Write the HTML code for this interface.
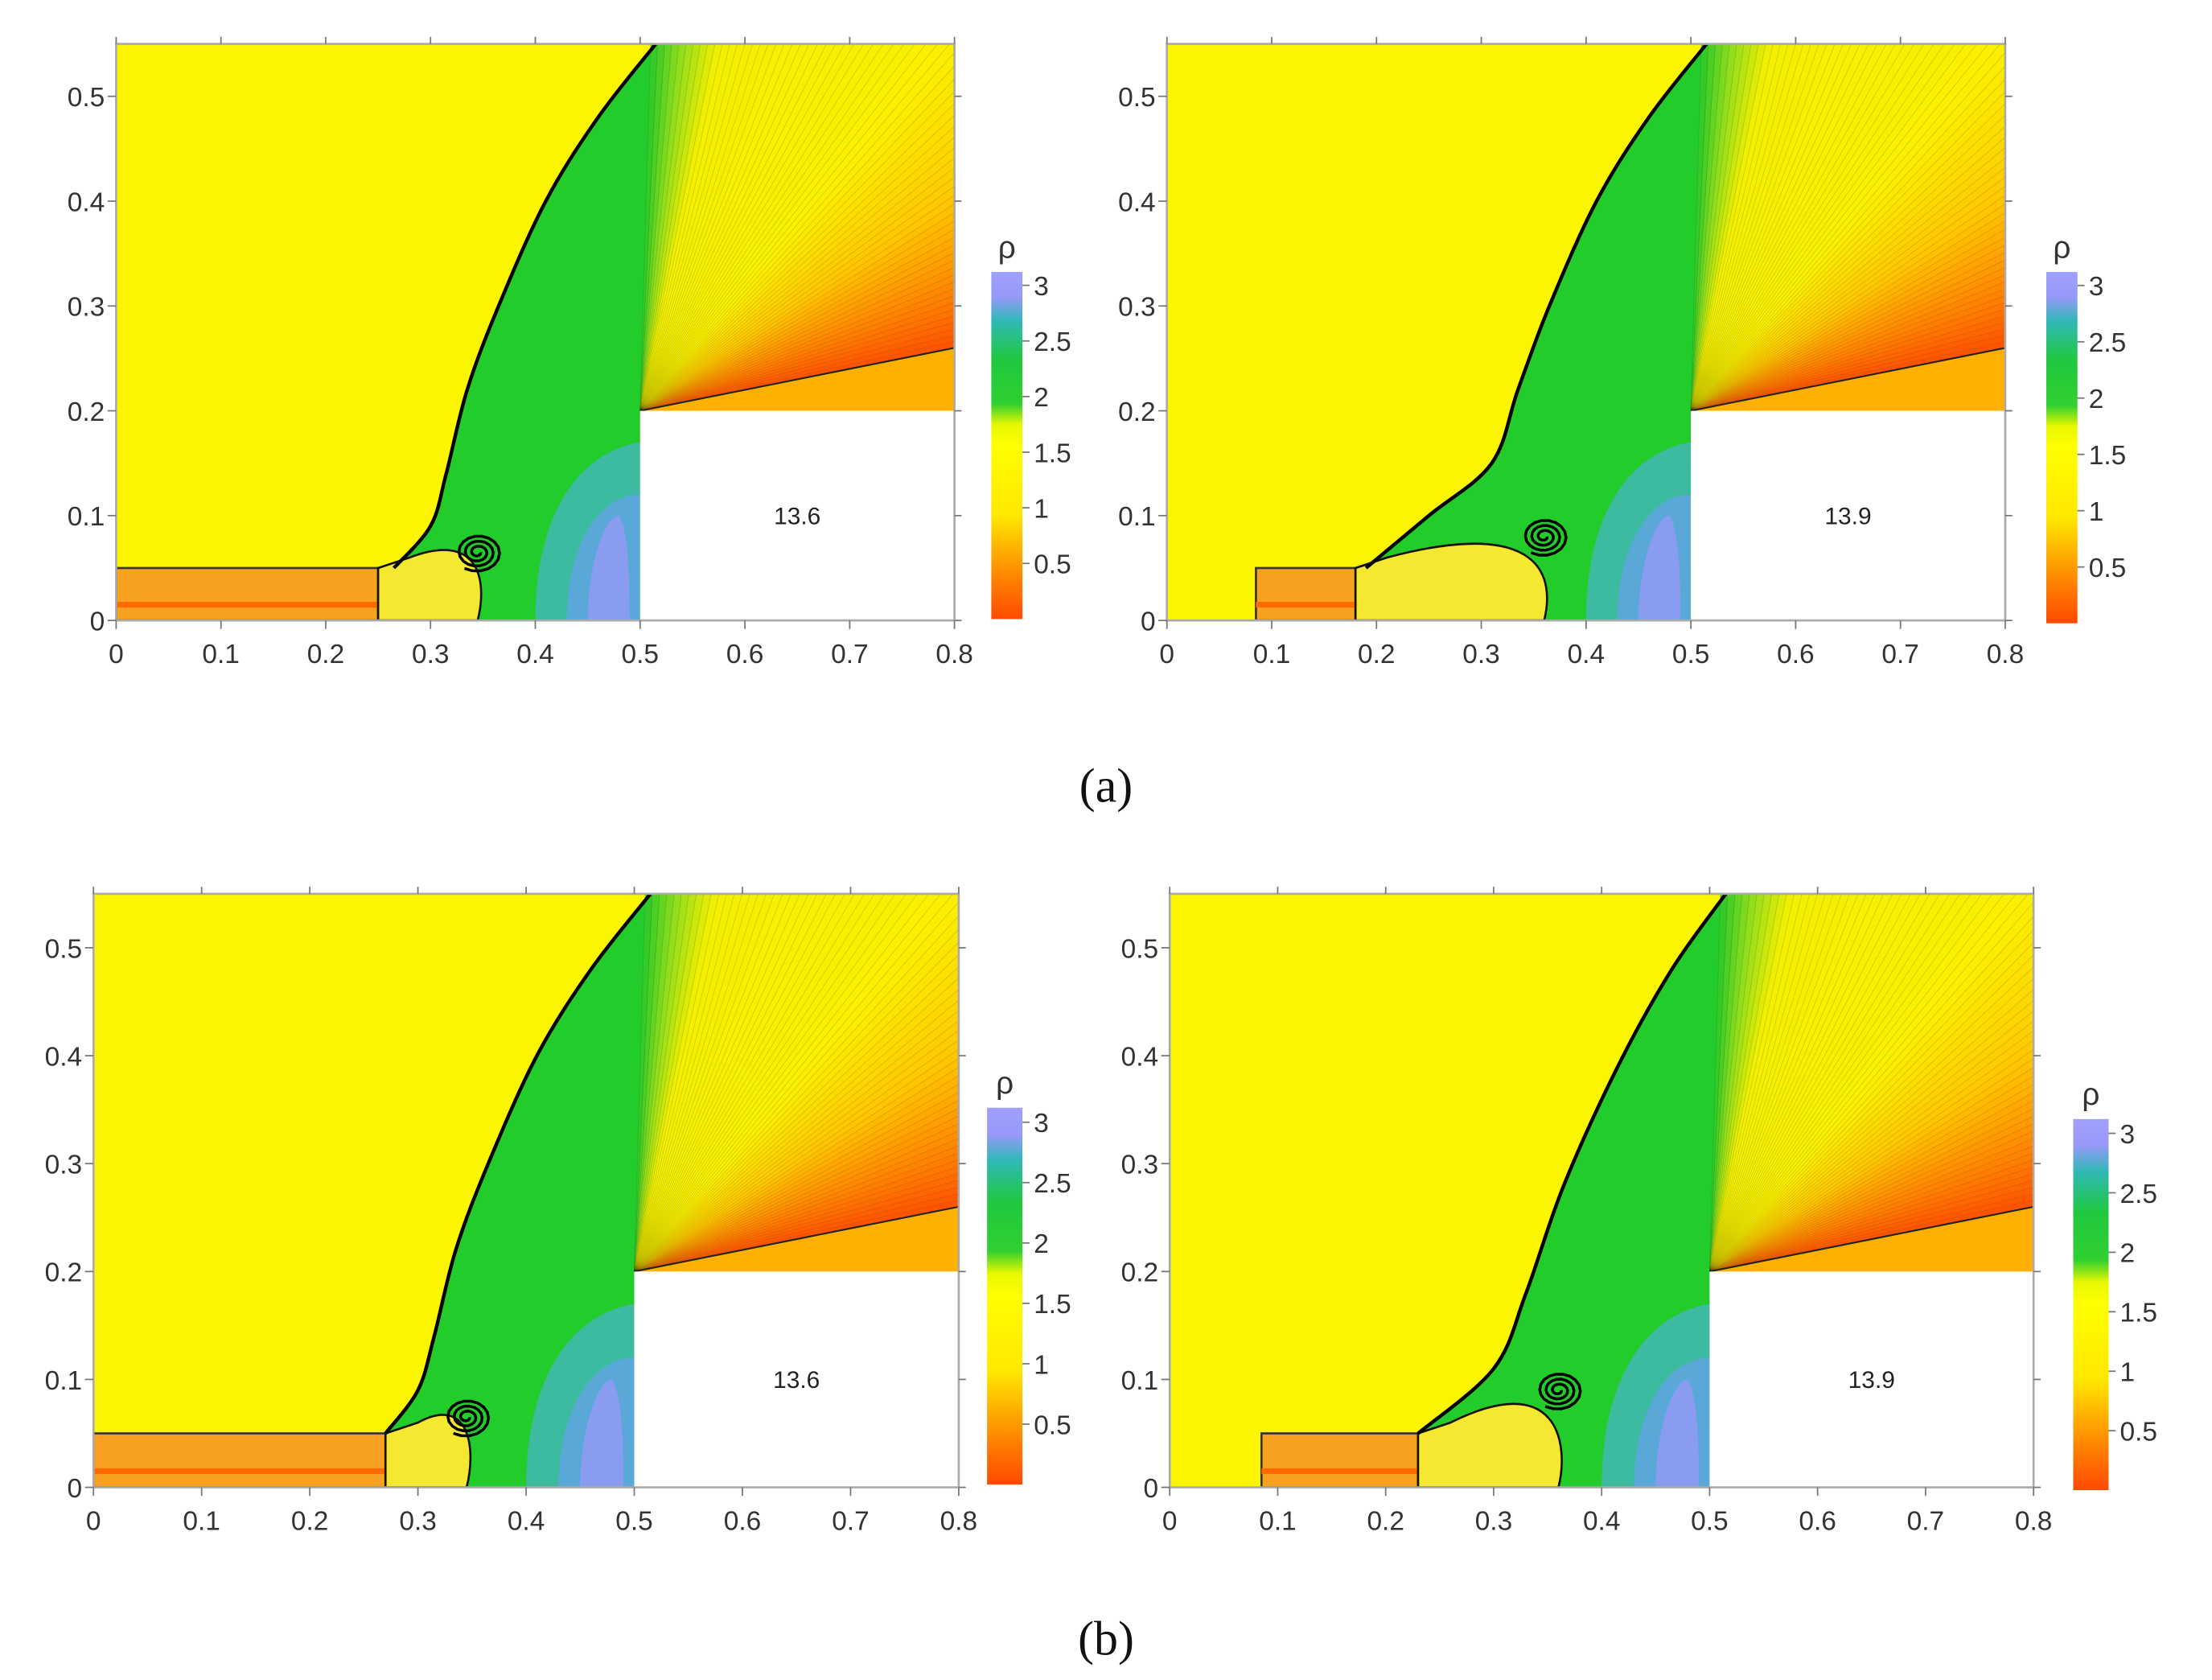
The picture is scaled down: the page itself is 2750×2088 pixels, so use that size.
<!DOCTYPE html>
<html><head><meta charset="utf-8"><style>
html,body{margin:0;padding:0;background:#fff;}
svg{display:block;font-family:"Liberation Sans",sans-serif;}
</style></head><body>
<svg id="fig" width="2750" height="2088" viewBox="0 0 1562 1186" xmlns="http://www.w3.org/2000/svg">
<text x="781" y="566" font-family="Liberation Serif,serif" font-size="34" text-anchor="middle" fill="#111">(a)</text>
<text x="781" y="1168" font-family="Liberation Serif,serif" font-size="34" text-anchor="middle" fill="#111">(b)</text>
</svg>
<script>
const xTicks=[0,0.1,0.2,0.3,0.4,0.5,0.6,0.7,0.8];
const yTicks=[0,0.1,0.2,0.3,0.4,0.5];
const cbTicks=[0.5,1,1.5,2,2.5,3];
const timeLabels=["13.6","13.9","13.6","13.9"];
const shockA1=[[0.265,0.05],[0.3,0.09],[0.315,0.14],[0.335,0.22],[0.365,0.3],[0.41,0.4],[0.46,0.48],[0.515,0.55]];
const shockA2=[[0.19,0.05],[0.25,0.1],[0.31,0.15],[0.335,0.22],[0.365,0.3],[0.41,0.4],[0.46,0.48],[0.515,0.55]];
const shockB1=[[0.27,0.05],[0.3,0.09],[0.315,0.14],[0.335,0.22],[0.365,0.3],[0.41,0.4],[0.46,0.48],[0.515,0.55]];
const shockB2=[[0.23,0.05],[0.3,0.11],[0.33,0.18],[0.365,0.28],[0.415,0.39],[0.465,0.48],[0.515,0.55]];
const jetStart=[0,0.085,0,0.085];
const jetEnd=[0.25,0.18,0.27,0.23];
const vortexX=[0.345,0.36,0.345,0.36];
const vortexY=[0.065,0.08,0.065,0.09];
const panels=[
 {x0:82,x1:674,y0:31,y1:438,cb:[700,722,192,437],shock:shockA1},
 {x0:824,x1:1416,y0:31,y1:438,cb:[1445,1467,192,440],shock:shockA2},
 {x0:66,x1:677,y0:631,y1:1050,cb:[697,722,782,1048],shock:shockB1},
 {x0:826,x1:1436,y0:631,y1:1050,cb:[1464,1489,790,1052],shock:shockB2}
];
const NS="http://www.w3.org/2000/svg";
const svg=document.getElementById('fig');
function mk(t,a,p){const e=document.createElementNS(NS,t);for(const k in a)e.setAttribute(k,a[k]);(p||svg).appendChild(e);return e;}
function lerpC(a,b,t){return a.map((v,i)=>Math.round(v+(b[i]-v)*t));}
function fanColor(t){const st=[[0,[40,200,40]],[0.06,[140,220,30]],[0.14,[245,240,0]],[0.5,[250,240,0]],[0.7,[255,200,0]],[0.88,[255,130,0]],[1,[255,80,0]]];
 for(let i=0;i<st.length-1;i++){if(t<=st[i+1][0]){const c=lerpC(st[i][1],st[i+1][1],(t-st[i][0])/(st[i+1][0]-st[i][0]));return `rgb(${c})`;}}return 'rgb(255,80,0)';}
function smooth(p){let d=`M${p[0][0]},${p[0][1]}`;for(let i=0;i<p.length-1;i++){const p0=p[Math.max(0,i-1)],p1=p[i],p2=p[i+1],p3=p[Math.min(p.length-1,i+2)];
 d+=` C${p1[0]+(p2[0]-p0[0])/6},${p1[1]+(p2[1]-p0[1])/6} ${p2[0]-(p3[0]-p1[0])/6},${p2[1]-(p3[1]-p1[1])/6} ${p2[0]},${p2[1]}`;}return d;}
panels.forEach((P,pi)=>{
 const sx=v=>P.x0+v/0.8*(P.x1-P.x0), sy=v=>P.y1-v/0.55*(P.y1-P.y0);
 const g=mk('g',{});
 
 
 const cid='clip'+pi;
 const cp=mk('clipPath',{id:cid},g);mk('rect',{x:P.x0,y:P.y0,width:P.x1-P.x0,height:P.y1-P.y0},cp);
 const pg=mk('g',{'clip-path':`url(#${cid})`},g);
 const bg=mk('rect',{x:P.x0,y:P.y0,width:P.x1-P.x0,height:P.y1-P.y0,fill:'#fbf600'},pg);
 
 
 const spx=P.shock.map(p=>[sx(p[0]),sy(p[1])]);
 const sd=smooth(spx);
 const gr=mk('path',{d:sd+` L${sx(0.53)},${sy(0.55)} L${sx(0.5)},${sy(0.2)} L${sx(0.5)},${sy(0)} L${sx(P.shock[0][0])},${sy(0)} Z`,fill:'#22cc2a'},pg);
 
 
 const bl=mk('path',{d:`M${sx(0.4)},${sy(0)} C${sx(0.4)},${sy(0.1)} ${sx(0.44)},${sy(0.16)} ${sx(0.5)},${sy(0.17)} L${sx(0.5)},${sy(0)} Z`,fill:'#3cbba0'},pg);
 
 
 mk('path',{d:`M${sx(0.43)},${sy(0)} C${sx(0.43)},${sy(0.07)} ${sx(0.46)},${sy(0.12)} ${sx(0.5)},${sy(0.12)} L${sx(0.5)},${sy(0)} Z`,fill:'#5aa8d8'},pg);
 mk('path',{d:`M${sx(0.45)},${sy(0)} C${sx(0.45)},${sy(0.05)} ${sx(0.465)},${sy(0.1)} ${sx(0.48)},${sy(0.1)} C${sx(0.49)},${sy(0.08)} ${sx(0.49)},${sy(0.03)} ${sx(0.49)},${sy(0)} Z`,fill:'#8a9cf0'},pg);
 const cx=sx(0.5),cy=sy(0.2);
 const aA=Math.atan2(sy(0.55)-cy,sx(0.51)-cx), aB=Math.atan2(sy(0.26)-cy,sx(0.8)-cx);
 const N=70;
 for(let i=0;i<N;i++){const t0=i/N,t1=(i+1)/N;const a0=aA+(aB-aA)*t0,a1=aA+(aB-aA)*t1;
  mk('polygon',{points:`${cx},${cy} ${cx+1500*Math.cos(a0)},${cy+1500*Math.sin(a0)} ${cx+1500*Math.cos(a1)},${cy+1500*Math.sin(a1)}`,fill:fanColor((t0+t1)/2),stroke:'rgba(0,0,0,0.1)','stroke-width':0.5},pg);}
 mk('polygon',{points:`${cx},${cy} ${sx(0.8)},${sy(0.26)} ${sx(0.8)},${sy(0.2)}`,fill:'#ffb000'},pg);
 mk('line',{x1:cx,y1:cy,x2:sx(0.8),y2:sy(0.26),stroke:'#222','stroke-width':1.2},pg);
 const blk=mk('rect',{x:sx(0.5),y:sy(0.2),width:sx(0.8)-sx(0.5),height:sy(0)-sy(0.2),fill:'#fff'},pg);
 
 
 const jet=mk('rect',{x:sx(jetStart[pi]),y:sy(0.05),width:sx(jetEnd[pi])-sx(jetStart[pi]),height:sy(0)-sy(0.05),fill:'#f8a020',stroke:'#333','stroke-width':1.5},pg);
 
 
 mk('line',{x1:sx(jetStart[pi]),y1:sy(0.015),x2:sx(jetEnd[pi]),y2:sy(0.015),stroke:'#ff6a00','stroke-width':4},pg);
 mk('path',{d:`M${sx(jetEnd[pi])},${sy(0.05)} L${sx(jetEnd[pi])},${sy(0)} L${sx(vortexX[pi])},${sy(0)} C${sx(vortexX[pi]+0.01)},${sy(0.04)} ${sx(vortexX[pi])},${sy(vortexY[pi]+0.02)} ${sx(jetEnd[pi]+0.03)},${sy(0.06)} Z`,fill:'#f5e830',stroke:'#111','stroke-width':1.5},pg);
 const sh=mk('path',{d:sd,fill:'none',stroke:'#000','stroke-width':2.5,'stroke-linejoin':'round'},pg);
 
 
 const vx=sx(vortexX[pi]),vy=sy(vortexY[pi]);
 let d='';for(let k=0;k<=60;k++){const a=k*0.35,r=2+k*0.25;d+=(k?'L':'M')+(vx+r*Math.cos(a))+','+(vy+r*0.8*Math.sin(a));}
 const vt=mk('path',{d:d,fill:'none',stroke:'#000','stroke-width':2},pg);
 
 
 const tl=mk('text',{x:(sx(0.5)+sx(0.8))/2,y:sy(0.1)+6,'font-size':17,'text-anchor':'middle',fill:'#222'},g);
 tl.textContent=timeLabels[pi];
 
 
 mk('rect',{x:P.x0,y:P.y0,width:P.x1-P.x0,height:P.y1-P.y0,fill:'none',stroke:'#aaa','stroke-width':1.5},g);
 xTicks.forEach(v=>{const x=sx(v);
  mk('line',{x1:x,y1:P.y1,x2:x,y2:P.y1+6,stroke:'#777'},g);mk('line',{x1:x,y1:P.y0,x2:x,y2:P.y0-5,stroke:'#777'},g);
  const t=mk('text',{x:x,y:P.y1+30,'font-size':19,'text-anchor':'middle',fill:'#333'},g);t.textContent=String(v);
  
  });
 yTicks.forEach(v=>{const y=sy(v);
  mk('line',{x1:P.x0-6,y1:y,x2:P.x0,y2:y,stroke:'#777'},g);mk('line',{x1:P.x1,y1:y,x2:P.x1+5,y2:y,stroke:'#777'},g);
  const t=mk('text',{x:P.x0-8,y:y+7,'font-size':19,'text-anchor':'end',fill:'#333'},g);t.textContent=String(v);
  
  });
 const [cx0,cx1,cy0,cy1]=P.cb;const vmax=3.12;const cs=v=>cy1-v/vmax*(cy1-cy0);
 const gid='cbg'+pi;const lg=mk('linearGradient',{id:gid,x1:0,y1:1,x2:0,y2:0},g);
 [[0,'#ff4a00'],[0.1,'#ff7a00'],[0.2,'#ffb000'],[0.3,'#ffe800'],[0.5,'#ffff00'],[0.56,'#e8f800'],[0.62,'#30d030'],[0.75,'#20c840'],[0.86,'#30b8b8'],[0.93,'#9898f8'],[1,'#a0a0ff']].forEach(s=>mk('stop',{offset:s[0],'stop-color':s[1]},lg));
 const cb=mk('rect',{x:cx0,y:cy0,width:cx1-cx0,height:cy1-cy0,fill:`url(#${gid})`},g);
 
 
 const rt=mk('text',{x:(cx0+cx1)/2,y:cy0-10,'font-size':22,'text-anchor':'middle',fill:'#333'},g);rt.textContent='ρ';
 
 
 cbTicks.forEach(v=>{const y=cs(v);mk('line',{x1:cx1,y1:y,x2:cx1+5,y2:y,stroke:'#777'},g);
  const t=mk('text',{x:cx1+8,y:y+7,'font-size':19,fill:'#333'},g);t.textContent=String(v);
  
  });
});
</script>
</body></html>
